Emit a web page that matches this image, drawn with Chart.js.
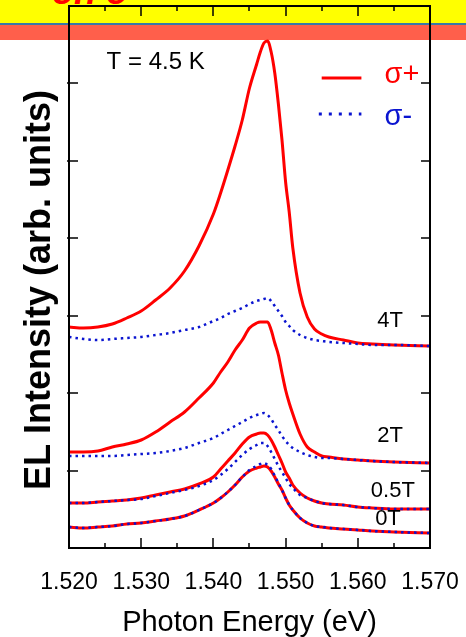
<!DOCTYPE html>
<html>
<head>
<meta charset="utf-8">
<script src="https://cdn.jsdelivr.net/npm/chart.js@4.4.1/dist/chart.umd.min.js"></script>
<style>
  html, body { margin: 0; padding: 0; background: #fff; }
  #wrap { position: relative; width: 466px; height: 637px; overflow: hidden; }
  #band-top { position: absolute; left: 0; top: 0; width: 466px; height: 23px; background: #ffff00; }
  #band-line { position: absolute; left: 0; top: 23px; width: 466px; height: 2px; background: #3a78a8; }
  #band-red { position: absolute; left: 0; top: 25px; width: 466px; height: 15px; background: #ff5f4b; }
  #tag { position: absolute; left: 52px; top: -29px; font: italic bold 36px "Liberation Sans", Arial, sans-serif; color: #f00; white-space: nowrap; }
  canvas { position: absolute; left: 0; top: 0; }
</style>
</head>
<body>
<div id="wrap">
  <div id="band-top"></div>
  <div id="band-line"></div>
  <div id="band-red"></div>
  <div id="tag">on o</div>
  <canvas id="grafica" width="466" height="637"></canvas>
</div>
<script>
// energia del fotón (eV)
const energia = [1.520, 1.522, 1.524, 1.526, 1.528, 1.530, 1.532, 1.534, 1.536, 1.538,
  1.540, 1.541, 1.542, 1.543, 1.544, 1.545, 1.546, 1.5465, 1.547, 1.5475,
  1.548, 1.5485, 1.549, 1.5495, 1.550, 1.5505, 1.551, 1.552, 1.553, 1.554,
  1.555, 1.556, 1.558, 1.560, 1.562, 1.565, 1.570];

// intensidad EL (unid. arb., curvas desplazadas)
const sp4T = [221, 220, 221, 224, 230, 237, 248, 260, 277, 302, 334, 355, 378, 402, 428, 460, 484, 496, 505, 507,
  496, 475, 444, 408, 366, 336, 300, 255, 231, 219, 214, 211, 208, 205, 204, 203, 202];
const sm4T = [211, 209, 208, 209, 210, 211, 213, 215, 218, 221, 227, 230, 234, 237, 240, 244, 247, 248, 249, 250,
  247, 242, 237, 232, 226, 222, 218, 213, 210, 208, 207, 206, 205, 204, 203, 203, 202];
const sp2T = [96, 96, 97, 101, 104, 108, 116, 126, 136, 150, 165, 176, 186, 198, 208, 220, 225, 226, 226, 226,
  218, 205, 193, 175, 158, 145, 134, 114, 101, 96, 92, 91, 89, 88, 87, 86, 85];
const sm2T = [92, 92, 92, 92, 93, 94, 95, 97, 100, 105, 110, 114, 118, 122, 126, 130, 133, 134, 135, 133,
  129, 123, 118, 112, 107, 103, 100, 96, 93, 91, 90, 90, 89, 88, 87, 86, 85];
const sp05T = [45, 45, 46, 47, 48, 50, 53, 56, 59, 64, 71, 79, 87, 95, 104, 111, 114, 115, 115, 113,
  108, 101, 93, 85, 76, 70, 63, 55, 50, 47, 45, 44, 43, 41, 40, 39, 39];
const sm05T = [45, 45, 46, 47, 48, 49, 52, 55, 58, 62, 68, 73, 79, 86, 93, 99, 103, 105, 105, 102,
  96, 89, 82, 76, 70, 64, 60, 53, 50, 47, 45, 44, 43, 41, 40, 39, 39];
const sp0T = [21, 20, 21, 22, 24, 25, 27, 29, 32, 38, 45, 50, 56, 63, 71, 77, 80, 81, 82, 81,
  77, 71, 64, 58, 50, 43, 38, 30, 25, 22, 21, 20, 19, 18, 17, 16, 15];
const sm0T = [21, 20, 21, 22, 24, 25, 27, 29, 32, 38, 45, 50, 56, 63, 71, 78, 82, 84, 85, 83,
  79, 72, 65, 58, 50, 43, 38, 30, 25, 22, 21, 20, 19, 18, 17, 16, 15];

const campos = ['4T', '2T', '0.5T', '0T'];

const FUENTE = '"Liberation Sans", Arial, sans-serif';
const ROJO = '#ff0000';
const AZUL = '#0a14d0';

const puntos = arr => energia.map((e, i) => ({ x: e, y: arr[i] }));
const base = { pointRadius: 0, cubicInterpolationMode: 'monotone', fill: false };
const sMenos = arr => ({ ...base, data: puntos(arr), borderColor: AZUL, borderWidth: 2.5, borderDash: [2.5, 4] });
const sMas = arr => ({ ...base, data: puntos(arr), borderColor: ROJO, borderWidth: 3 });

// marco, ticks hacia dentro y textos
const marcoPlugin = {
  id: 'marco',
  afterDatasetsDraw(chart) {
    const { ctx, chartArea: a, scales: { x, y } } = chart;
    ctx.save();
    ctx.strokeStyle = '#000';
    ctx.lineWidth = 2;
    ctx.strokeRect(a.left, a.top, a.right - a.left, a.bottom - a.top);

    ctx.lineWidth = 1.5;
    ctx.beginPath();
    x.ticks.forEach((t, i) => {
      const px = Math.round(x.getPixelForValue(t.value));
      ctx.moveTo(px, a.bottom); ctx.lineTo(px, a.bottom - 10);
      ctx.moveTo(px, a.top); ctx.lineTo(px, a.top + 10);
      if (i < x.ticks.length - 1) {
        const mx = Math.round(x.getPixelForValue((t.value + x.ticks[i + 1].value) / 2));
        ctx.moveTo(mx, a.bottom); ctx.lineTo(mx, a.bottom - 5);
        ctx.moveTo(mx, a.top); ctx.lineTo(mx, a.top + 5);
      }
    });
    y.ticks.forEach(t => {
      const py = Math.round(y.getPixelForValue(t.value));
      if (py < a.top + 5 || py > a.bottom - 5) return;
      ctx.moveTo(a.left - 2, py); ctx.lineTo(a.left + 9, py);
      ctx.moveTo(a.right, py); ctx.lineTo(a.right - 9, py);
    });
    ctx.stroke();

    const X = v => x.getPixelForValue(v);
    const Y = v => y.getPixelForValue(v);

    ctx.fillStyle = '#000';
    ctx.textBaseline = 'middle';
    ctx.textAlign = 'center';
    ctx.font = '24px ' + FUENTE;
    ctx.fillText('T = 4.5 K', X(1.5320), Y(486));

    ctx.textAlign = 'left';
    ctx.font = '22px ' + FUENTE;
    ctx.fillText(campos[0], X(1.5627), Y(227));
    ctx.fillText(campos[1], X(1.5627), Y(112));
    ctx.fillText(campos[2], X(1.5618), Y(57));
    ctx.fillText(campos[3], X(1.5624), Y(29));

    // leyenda
    ctx.lineWidth = 3;
    ctx.strokeStyle = ROJO;
    ctx.beginPath();
    ctx.moveTo(X(1.5550), Y(470)); ctx.lineTo(X(1.5605), Y(470));
    ctx.stroke();
    ctx.strokeStyle = AZUL;
    ctx.setLineDash([3, 7]);
    ctx.beginPath();
    ctx.moveTo(X(1.5546), Y(434)); ctx.lineTo(X(1.5605), Y(434));
    ctx.stroke();
    ctx.setLineDash([]);
    ctx.font = '29px ' + FUENTE;
    ctx.fillStyle = ROJO;
    ctx.fillText('σ+', X(1.5637), Y(473));
    ctx.fillStyle = AZUL;
    ctx.fillText('σ-', X(1.5637), Y(431));

    // título eje y
    ctx.save();
    ctx.translate(40, 290);
    ctx.rotate(-Math.PI / 2);
    ctx.textAlign = 'center';
    ctx.fillStyle = '#000';
    ctx.font = 'bold 36px ' + FUENTE;
    ctx.fillText('EL Intensity (arb. units)', 0, 0);
    ctx.restore();

    ctx.restore();
  }
};

new Chart(document.getElementById('grafica'), {
  type: 'line',
  data: {
    datasets: [
      sMenos(sm4T), sMenos(sm2T), sMenos(sm05T), sMenos(sm0T),
      sMas(sp4T), sMas(sp2T), sMas(sp05T), sMas(sp0T)
    ]
  },
  options: {
    responsive: false,
    devicePixelRatio: 1,
    animation: false,
    layout: { padding: { top: 6, right: 36, left: 0, bottom: 0 } },
    plugins: { legend: { display: false }, tooltip: { enabled: false } },
    scales: {
      x: {
        type: 'linear',
        min: 1.52,
        max: 1.57,
        grid: { display: false, drawTicks: true, tickLength: 18 },
        border: { display: false },
        ticks: {
          stepSize: 0.01,
          maxRotation: 0,
          autoSkip: false,
          padding: 3,
          color: '#000',
          font: { family: FUENTE, size: 23 },
          callback: v => v.toFixed(3)
        },
        title: {
          display: true,
          text: 'Photon Energy (eV)',
          color: '#000',
          font: { family: FUENTE, size: 29 },
          padding: { top: 0, bottom: -3 }
        },
        afterFit: s => { s.height = 89; }
      },
      y: {
        min: 0,
        max: 542,
        grid: { display: false, drawTicks: false },
        border: { display: false },
        ticks: { stepSize: 77, display: false },
        afterFit: s => { s.width = 69; }
      }
    }
  },
  plugins: [marcoPlugin]
});
</script>
</body>
</html>
